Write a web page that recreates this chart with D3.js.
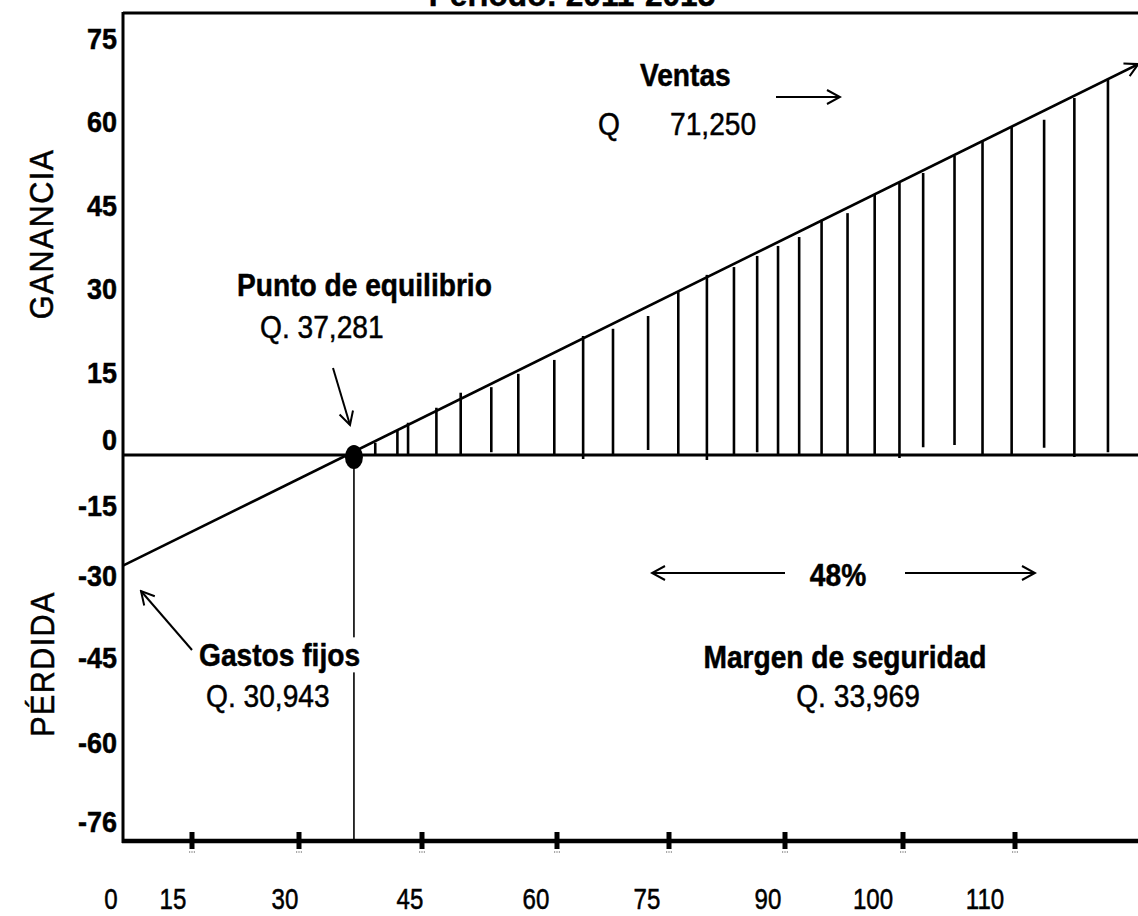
<!DOCTYPE html>
<html>
<head>
<meta charset="utf-8">
<script src="https://cdn.jsdelivr.net/npm/d3@7"></script>
<style>
	body { margin: 0; background: #fff; }
	svg { display: block; }
	text { font-family: "Liberation Sans", Arial, sans-serif; fill: #000; stroke: #000; stroke-width: 0.5px; }
</style>
</head>
<body>
<svg id="myGraph" width="1138" height="916"></svg>
<script>
// etiquetas de los ejes
var yTicks = [75, 60, 45, 30, 15, 0, -15, -30, -45, -60, -76];
var xTicks = [0, 15, 30, 45, 60, 75, 90, 100, 110];
var xTickMarks = [15, 30, 45, 60, 75, 90, 100, 110];

// linea de ventas (miles de Q)
var ventasX = [0, 121];
var ventasY = [-28, 70.3];
var equilibrioX = 36.7;

// rayado del margen de seguridad
var hatchX = [39.3, 42.0, 43.3, 46.6, 49.3, 52.7, 55.7, 59.7, 63.5, 67.5, 72.2, 76.2, 79.9, 83.4,
	86.4, 89.1, 91.2, 93.1, 95.3, 97.6, 99.7, 101.8, 104.6, 107.1, 109.7, 112.6, 115.3, 118.3];
var hatchTop = [2.2, 4.5, 5.8, 8.5, 11.2, 12.2, 14.6, 17.1, 21.4, 22.7, 25.0, 29.3, 32.4, 33.8,
	35.8, 37.6, 39.2, 42.3, 43.5, 46.9, 48.9, 50.7, 53.8, 56.3, 59.0, 60.3, 64.2, 67.6];
var hatchBottom = [0, 0, 0, 0, 0, 0.5, 0, 0, -1.2, 0, 0.9, 0, -1.5, 0,
	0.5, 0, 0, 0, 0, -0.3, -0.9, 1.4, 1.8, 0, -0.3, 1.3, -0.6, 0.5];

window.addEventListener("load", function(){

	var svg = d3.select("#myGraph");
	var svgWidth = 1138;
	var sx = 0.88;	// letra angosta

	// escalas (el dibujo original no es lineal, por eso son por tramos)
	var xScale = d3.scaleLinear()
		.domain(xTicks)
		.range([123, 192, 299, 422, 557, 669, 785, 903, 1015]);
	var yScale = d3.scaleLinear()
		.domain(yTicks)
		.range([38, 121.4, 204.8, 288.2, 371.6, 455, 505, 575, 657, 742, 841]);
	var xLabelDx = [-12, -19, -14, -12, -21, -22, -17, -30, -30];

	var x0 = xScale(0), yZero = yScale(0), yBase = yScale(d3.min(yTicks));

	function addText(parent, x, y, str, size, weight, anchor, scaleX, scaleY){
		return parent.append("text")
			.attr("transform", "translate(" + x + "," + y + ") scale(" + scaleX + "," + (scaleY || 1) + ")")
			.attr("text-anchor", anchor)
			.style("font-size", size + "px")
			.style("font-weight", weight)
			.text(str);
	}

	// flecha abierta
	svg.append("defs").append("marker")
		.attr("id", "flecha")
		.attr("viewBox", "-16 -9 18 18")
		.attr("markerUnits", "userSpaceOnUse")
		.attr("markerWidth", 18).attr("markerHeight", 18)
		.attr("refX", 0).attr("refY", 0)
		.attr("orient", "auto")
		.append("path")
		.attr("d", "M-13,-7 L0,0 L-13,7")
		.attr("fill", "none").attr("stroke", "#000").attr("stroke-width", 2);

	// marco
	svg.append("line").attr("x1", x0).attr("x2", svgWidth).attr("y1", 13).attr("y2", 13)
		.attr("stroke", "#000").attr("stroke-width", 3);
	svg.append("line").attr("x1", x0).attr("x2", x0).attr("y1", 12).attr("y2", yBase + 2)
		.attr("stroke", "#000").attr("stroke-width", 3);

	// titulo (cortado arriba, como en el original)
	addText(svg, 572, 6, "Período: 2011-2015", 34, "bold", "middle", 0.93);

	// rayado
	svg.selectAll("line.hatch")
		.data(hatchX)
		.enter()
		.append("line")
		.attr("class", "hatch")
		.attr("x1", function(d){ return xScale(d); })
		.attr("x2", function(d){ return xScale(d); })
		.attr("y1", function(d, i){ return yScale(hatchTop[i]); })
		.attr("y2", function(d, i){ return yScale(hatchBottom[i]); })
		.attr("stroke", "#000")
		.attr("stroke-width", 2.6);

	// eje cero
	svg.append("line").attr("x1", x0).attr("x2", svgWidth).attr("y1", yZero).attr("y2", yZero)
		.attr("stroke", "#000").attr("stroke-width", 3);

	// linea vertical del punto de equilibrio
	svg.append("line")
		.attr("x1", xScale(equilibrioX)).attr("x2", xScale(equilibrioX))
		.attr("y1", yZero).attr("y2", yBase)
		.attr("stroke", "#000").attr("stroke-width", 1.6);

	// linea de ventas
	var ventas = ventasX.map(function(d, i){ return [xScale(d), yScale(ventasY[i])]; });
	svg.append("path")
		.attr("d", d3.line()(ventas))
		.attr("fill", "none")
		.attr("stroke", "#000")
		.attr("stroke-width", 2.6)
		.attr("marker-end", "url(#flecha)");

	// punto de equilibrio
	svg.append("ellipse")
		.attr("cx", xScale(equilibrioX)).attr("cy", yZero + 2)
		.attr("rx", 9).attr("ry", 12)
		.attr("fill", "#000");

	// eje x
	svg.append("line").attr("x1", x0 - 1).attr("x2", svgWidth).attr("y1", yBase).attr("y2", yBase)
		.attr("stroke", "#000").attr("stroke-width", 4.5);
	svg.selectAll("rect.tick")
		.data(xTickMarks)
		.enter()
		.append("rect")
		.attr("class", "tick")
		.attr("x", function(d){ return xScale(d) - 2.5; })
		.attr("y", yBase - 9)
		.attr("width", 5)
		.attr("height", 17)
		.attr("fill", "#000");
	svg.selectAll("line.dots")
		.data(xTickMarks)
		.enter()
		.append("line")
		.attr("class", "dots")
		.attr("x1", function(d){ return xScale(d) - 3; })
		.attr("x2", function(d){ return xScale(d) + 4; })
		.attr("y1", yBase + 11).attr("y2", yBase + 11)
		.attr("stroke", "#555").attr("stroke-width", 1.2)
		.attr("stroke-dasharray", "1.2,1.2");

	var xl = svg.append("g");
	xTicks.forEach(function(d, i){
		addText(xl, xScale(d) + xLabelDx[i], 909, d, 28, "normal", "middle", 0.86, 1.08);
	});

	// etiquetas del eje y
	var yl = svg.append("g");
	yTicks.forEach(function(d){
		var lift = (d === 0) ? -16 : (d === d3.min(yTicks) ? -20 : 0);
		addText(yl, 117, yScale(d) + lift + 11, d, 30, "bold", "end", 0.9);
	});

	// titulos de eje
	svg.append("text")
		.attr("transform", "translate(53,234) rotate(-90) scale(0.9,1)")
		.attr("text-anchor", "middle")
		.style("font-size", "34px")
		.style("letter-spacing", "1.5px")
		.text("GANANCIA");
	svg.append("text")
		.attr("transform", "translate(54,664) rotate(-90) scale(0.9,1)")
		.attr("text-anchor", "middle")
		.style("font-size", "34px")
		.style("letter-spacing", "1.5px")
		.text("PÉRDIDA");

	// anotaciones
	var an = svg.append("g");
	addText(an, 640, 86, "Ventas", 32, "bold", "start", sx);
	addText(an, 598, 135, "Q", 32, "normal", "start", sx);
	addText(an, 670, 135, "71,250", 32, "normal", "start", sx);

	addText(an, 237, 296, "Punto de equilibrio", 32, "bold", "start", sx);
	addText(an, 260, 338, "Q. 37,281", 32, "normal", "start", sx);

	addText(an, 838, 586, "48%", 32, "bold", "middle", sx);
	addText(an, 845, 668, "Margen de seguridad", 32, "bold", "middle", sx);
	addText(an, 858, 707, "Q. 33,969", 32, "normal", "middle", sx);

	var gastos = addText(an, 199, 666, "Gastos fijos", 32, "bold", "start", sx);
	var bb = gastos.node().getBBox();
	an.insert("rect", function(){ return gastos.node(); })
		.attr("transform", gastos.attr("transform"))
		.attr("x", bb.x - 2).attr("y", bb.y).attr("width", bb.width + 4).attr("height", bb.height)
		.attr("fill", "#fff");
	addText(an, 206, 707, "Q. 30,943", 32, "normal", "start", sx);

	var flechas = [
		[[776, 97], [840, 97]],
		[[333, 368], [350, 425]],
		[[192, 650], [141, 591]],
		[[785, 573], [652, 573]],
		[[905, 573], [1035, 573]]
	];
	an.selectAll("path.flecha")
		.data(flechas)
		.enter()
		.append("path")
		.attr("class", "flecha")
		.attr("d", d3.line())
		.attr("fill", "none")
		.attr("stroke", "#000")
		.attr("stroke-width", 2)
		.attr("marker-end", "url(#flecha)");

});
</script>
</body>
</html>
